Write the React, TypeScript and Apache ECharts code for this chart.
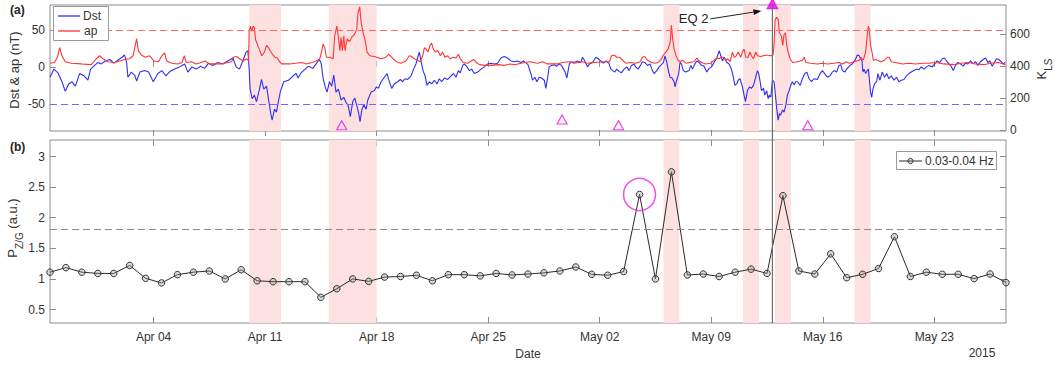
import React, { useEffect, useRef } from "react";
import * as echarts from "echarts";

// x coordinate = days since 2015-03-28 00:00
const tickDays = [7, 14, 21, 28, 35, 42, 49, 56];
const tickLabels = ["Apr 04", "Apr 11", "Apr 18", "Apr 25", "May 02", "May 09", "May 16", "May 23"];
const xMin = 0.5;
const xMax = 60.5;

const dstTicks = [-50, 0, 50];
const klsTicks = [0, 200, 400, 600];
const pzgTicks = [0.5, 1, 1.5, 2, 2.5, 3];

const dst: [number, number][] = [
  [0.5, -14], [0.75, -3], [1.0, -8], [1.25, -20], [1.46, -33], [1.67, -23], [1.88, -20], [2.09, -26], [2.36, -9], [2.63, -12],
  [2.88, -18], [3.05, -3], [3.3, 2], [3.51, 6], [3.72, 4], [3.97, 8], [4.24, 10], [4.51, 5], [4.76, 9], [5.02, 13],
  [5.18, 16], [5.31, 6], [5.39, -14], [5.6, -7], [5.81, -11], [5.94, -19], [6.14, -7], [6.44, -5], [6.69, -7], [6.98, -20],
  [7.27, -9], [7.52, -5], [7.77, -12], [8.03, -6], [8.32, -3], [8.63, 0], [8.95, 4], [9.15, -7], [9.41, 0], [9.68, -3],
  [9.95, 1], [10.2, -2], [10.45, 5], [10.72, 2], [11.04, 6], [11.35, 4], [11.66, 8], [11.98, 12], [12.18, 0], [12.39, -3],
  [12.6, 8], [12.81, 20], [12.92, 22], [13.0, -3], [13.06, -30], [13.19, -43], [13.33, -38], [13.46, -47], [13.65, -30], [13.77, -17],
  [13.92, -30], [14.09, -26], [14.21, -43], [14.34, -61], [14.44, -72], [14.59, -57], [14.71, -61], [14.84, -46], [14.96, -33], [15.17, -20],
  [15.47, -18], [15.76, -12], [15.95, -9], [16.07, -15], [16.26, -8], [16.51, -3], [16.72, 1], [17.0, -2], [17.2, 4], [17.41, 10],
  [17.52, 5], [17.64, -15], [17.77, -27], [17.89, -34], [18.04, -20], [18.18, -26], [18.31, -11], [18.45, -34], [18.6, -30], [18.77, -45],
  [18.94, -41], [19.06, -47], [19.21, -52], [19.35, -67], [19.5, -47], [19.63, -42], [19.75, -52], [19.86, -61], [19.96, -74], [20.07, -58],
  [20.19, -51], [20.34, -57], [20.44, -45], [20.65, -34], [20.86, -32], [20.98, -27], [21.11, -29], [21.28, -20], [21.49, -14], [21.65, -9],
  [21.8, -20], [21.95, -29], [22.11, -23], [22.32, -20], [22.49, -17], [22.63, -20], [22.78, -16], [22.95, -17], [23.16, -12], [23.32, -3],
  [23.47, 4], [23.58, 13], [23.68, 20], [23.78, 8], [23.91, -5], [24.04, -12], [24.16, -25], [24.31, -20], [24.45, -23], [24.62, -18],
  [24.79, -23], [24.93, -16], [25.08, -20], [25.25, -15], [25.46, -17], [25.67, -12], [25.83, -9], [25.98, -14], [26.13, -5], [26.25, -8],
  [26.4, 2], [26.5, 4], [26.67, 0], [26.82, -5], [26.96, -3], [27.13, -9], [27.34, -7], [27.55, -3], [27.76, 0], [27.97, 4],
  [28.17, 5], [28.38, 4], [28.59, 5], [28.8, 12], [29.01, 14], [29.22, 12], [29.43, 8], [29.64, 7], [29.85, 8], [30.06, 6],
  [30.22, 8], [30.39, 5], [30.5, 3], [30.6, -4], [30.68, -9], [30.78, -18], [30.93, -14], [31.06, -20], [31.2, -14], [31.35, -15],
  [31.52, -18], [31.62, -29], [31.72, -16], [31.83, 0], [31.98, 2], [32.14, 3], [32.31, 1], [32.46, 4], [32.6, 2], [32.73, -3],
  [32.83, -7], [32.94, -15], [33.02, -5], [33.1, 4], [33.23, 7], [33.4, 6], [33.6, 8], [33.81, 6], [33.92, 13], [34.07, 8],
  [34.23, 0], [34.36, 4], [34.55, 6], [34.76, 13], [34.9, 11], [35.07, 8], [35.24, 5], [35.4, 8], [35.57, 5], [35.7, -3],
  [35.82, -5], [35.95, -7], [36.07, -3], [36.22, -6], [36.36, -8], [36.53, -3], [36.7, 0], [36.85, -5], [36.99, 2], [37.16, 4],
  [37.26, 0], [37.41, -3], [37.58, 3], [37.68, 7], [37.83, 6], [38.0, 2], [38.16, 4], [38.31, -5], [38.41, -9], [38.58, -5],
  [38.73, 0], [38.87, 3], [39.0, 6], [39.1, 15], [39.21, 6], [39.33, -7], [39.42, -14], [39.54, -15], [39.67, -20], [39.73, -27],
  [39.83, -18], [39.96, -9], [40.04, 6], [40.13, 4], [40.25, -5], [40.4, -7], [40.5, -6], [40.61, -5], [40.72, 2], [40.82, -3],
  [40.97, 4], [41.1, 8], [41.24, 6], [41.39, 2], [41.55, 1], [41.72, -7], [41.87, -2], [42.02, 0], [42.18, 6], [42.35, 12],
  [42.5, 22], [42.6, 15], [42.7, 8], [42.81, 13], [42.98, 6], [43.12, 4], [43.27, -3], [43.39, -14], [43.48, -25], [43.6, -23],
  [43.69, -18], [43.81, -16], [43.96, -27], [44.06, -38], [44.15, -47], [44.27, -32], [44.4, -27], [44.52, -29], [44.65, -25], [44.79, -14],
  [44.9, -5], [44.98, -9], [45.07, -20], [45.15, -32], [45.28, -29], [45.36, -38], [45.48, -32], [45.57, -43], [45.65, -38], [45.74, -41],
  [45.84, -18], [45.94, -20], [46.03, -38], [46.11, -56], [46.2, -72], [46.28, -63], [46.36, -65], [46.47, -58], [46.57, -61], [46.68, -52],
  [46.78, -38], [46.89, -32], [46.99, -25], [47.09, -20], [47.2, -24], [47.3, -20], [47.41, -20], [47.58, -25], [47.72, -16], [47.87, -9],
  [48.0, -7], [48.14, -16], [48.29, -20], [48.45, -16], [48.66, -17], [48.83, -9], [48.98, -5], [49.12, -9], [49.29, -14], [49.46, -12],
  [49.6, -7], [49.71, -5], [49.87, -7], [50.02, 2], [50.13, 3], [50.23, -5], [50.38, -7], [50.5, -3], [50.71, 2], [50.85, 4],
  [51.0, 8], [51.17, 16], [51.29, 15], [51.38, 11], [51.46, 8], [51.52, -7], [51.59, -3], [51.69, -9], [51.79, -5], [51.86, -3],
  [51.92, -16], [52.0, -34], [52.07, -41], [52.15, -30], [52.25, -23], [52.38, -20], [52.46, -9], [52.59, -18], [52.73, -7], [52.88, -14],
  [53.01, -9], [53.15, -16], [53.3, -12], [53.47, -18], [53.63, -14], [53.78, -20], [53.93, -18], [54.09, -17], [54.26, -12], [54.41, -9],
  [54.55, -7], [54.72, -5], [54.89, -3], [55.03, -4], [55.18, 0], [55.35, -3], [55.51, 0], [55.66, 2], [55.87, 0], [56.02, 4],
  [56.18, 8], [56.35, 6], [56.5, 11], [56.64, 12], [56.77, 8], [56.92, 4], [57.06, 1], [57.19, -5], [57.33, 2], [57.48, 6],
  [57.65, 4], [57.81, 1], [57.96, 5], [58.11, 4], [58.27, 8], [58.44, 4], [58.59, 7], [58.73, 2], [58.9, 7], [59.07, 10],
  [59.22, 12], [59.36, 6], [59.49, 8], [59.63, 1], [59.78, 6], [59.9, 11], [60.05, 10], [60.2, 7], [60.32, 4], [60.45, 6],
];

const ap: [number, number][] = [
  [0.5, 5], [0.79, 6], [0.96, 13], [1.11, 26], [1.25, 15], [1.46, 7], [1.84, 5], [2.47, 4], [3.09, 3], [3.41, 11],
  [3.61, 15], [3.82, 11], [4.14, 7], [4.56, 6], [4.87, 8], [5.18, 10], [5.5, 11], [5.71, 15], [5.85, 29], [5.94, 38],
  [6.04, 22], [6.23, 16], [6.48, 13], [6.75, 15], [7.02, 8], [7.31, 7], [7.52, 15], [7.69, 19], [7.82, 8], [8.15, 5],
  [8.53, 4], [8.78, 6], [8.93, 15], [9.05, 6], [9.36, 7], [9.68, 4], [9.99, 6], [10.24, 8], [10.49, 4], [11.24, 4],
  [11.66, 6], [11.91, 7], [11.99, 13], [12.2, 14], [12.41, 11], [12.62, 8], [12.83, 11], [12.96, 8], [13.0, 49], [13.08, 55],
  [13.17, 48], [13.25, 55], [13.33, 53], [13.4, 37], [13.54, 29], [13.67, 22], [13.79, 15], [13.96, 20], [14.09, 29], [14.21, 26],
  [14.34, 21], [14.46, 17], [14.61, 13], [14.76, 12], [14.88, 8], [15.03, 4], [15.53, 4], [15.88, 5], [16.3, 6], [16.59, 4],
  [16.93, 6], [17.22, 8], [17.43, 11], [17.54, 20], [17.64, 31], [17.74, 26], [17.85, 13], [18.06, 13], [18.27, 11], [18.37, 42],
  [18.5, 55], [18.6, 40], [18.69, 22], [18.77, 40], [18.85, 22], [18.94, 42], [19.02, 22], [19.15, 38], [19.29, 34], [19.44, 40],
  [19.61, 44], [19.75, 50], [19.83, 73], [19.94, 81], [20.02, 61], [20.15, 46], [20.27, 37], [20.4, 20], [20.57, 15], [20.86, 14],
  [21.28, 11], [21.59, 13], [21.74, 17], [21.86, 15], [22.03, 11], [22.24, 7], [22.53, 5], [22.84, 8], [23.05, 15], [23.2, 14],
  [23.37, 11], [23.58, 9], [23.74, 7], [23.89, 15], [24.0, 26], [24.1, 24], [24.22, 20], [24.35, 29], [24.45, 32], [24.56, 24],
  [24.68, 20], [24.83, 22], [25.0, 15], [25.14, 20], [25.29, 13], [25.46, 15], [25.62, 11], [25.83, 13], [25.98, 12], [26.13, 17],
  [26.25, 11], [26.42, 6], [26.71, 5], [27.09, 10], [27.25, 6], [27.46, 3], [27.8, 2], [28.22, 2], [28.63, 3], [29.01, 2],
  [29.34, 4], [29.68, 3], [30.06, 5], [30.6, 7], [31.1, 5], [31.41, 7], [31.72, 4], [32.35, 4], [32.66, 6], [33.08, 7],
  [33.4, 5], [33.92, 7], [34.23, 5], [34.65, 6], [35.28, 7], [35.61, 7], [35.74, 15], [35.9, 16], [36.07, 13], [36.24, 13],
  [36.43, 9], [36.64, 5], [36.95, 6], [37.26, 5], [37.54, 7], [37.68, 13], [37.83, 14], [38.0, 9], [38.25, 6], [38.52, 5],
  [38.73, 7], [38.87, 10], [39.0, 16], [39.15, 20], [39.29, 24], [39.42, 33], [39.5, 56], [39.58, 38], [39.67, 24], [39.79, 15],
  [39.92, 9], [40.04, 7], [40.21, 9], [40.4, 5], [40.63, 6], [40.93, 7], [41.1, 12], [41.2, 9], [41.39, 6], [41.66, 4],
  [41.97, 5], [42.18, 9], [42.35, 12], [42.5, 11], [42.6, 13], [42.77, 13], [42.91, 9], [43.02, 11], [43.19, 7], [43.33, 20],
  [43.44, 13], [43.54, 14], [43.69, 20], [43.85, 13], [43.96, 20], [44.06, 24], [44.17, 13], [44.31, 13], [44.44, 20], [44.52, 15],
  [44.65, 11], [44.79, 20], [44.9, 15], [45.11, 14], [45.42, 16], [45.74, 15], [45.88, 16], [45.94, 29], [46.01, 64], [46.09, 67],
  [46.2, 64], [46.28, 46], [46.4, 42], [46.49, 29], [46.57, 44], [46.66, 46], [46.74, 29], [46.82, 20], [46.95, 11], [47.11, 6],
  [47.41, 7], [47.72, 9], [47.83, 13], [47.95, 6], [48.24, 5], [48.66, 4], [48.98, 5], [49.29, 4], [49.71, 5], [50.02, 6],
  [50.25, 4], [50.46, 7], [50.67, 5], [50.96, 7], [51.29, 9], [51.4, 13], [51.54, 9], [51.69, 20], [51.79, 42], [51.86, 55],
  [51.92, 51], [52.0, 29], [52.09, 20], [52.17, 9], [52.34, 10], [52.63, 7], [52.88, 9], [53.05, 13], [53.17, 13], [53.3, 7],
  [53.57, 6], [53.99, 4], [54.41, 5], [54.83, 4], [55.24, 5], [55.66, 5], [56.08, 6], [56.6, 4], [57.23, 3], [57.65, 5],
  [58.17, 6], [58.59, 4], [59.11, 3], [59.53, 5], [60.05, 6], [60.45, 3],
];

// pink bands: [start day, end day]
const stormBands: [number, number][] = [[13, 15], [18, 21], [39, 40], [44, 45], [46, 47], [51, 52]];
const apThreshold = 50;
const dstThreshold = -50;

// K_LS triangles (right axis)
const klsEvents: [number, number][] = [[18.81, 29], [32.64, 65], [36.18, 29], [48.06, 29]];
const eq2Day = 45.84;
const eq2Kls = 790;

// panel (b): daily P_Z/G (0.03-0.04 Hz), one value per day starting 2015-03-28 12:00
const pzg: number[] = [
  1.11, 1.185, 1.11, 1.09, 1.09, 1.22, 1.01, 0.935, 1.07, 1.11,
  1.13, 1.0, 1.15, 0.97, 0.955, 0.955, 0.955, 0.7, 0.84, 1.0,
  0.96, 1.03, 1.04, 1.06, 0.97, 1.07, 1.07, 1.05, 1.09, 1.065,
  1.08, 1.1, 1.13, 1.195, 1.075, 1.06, 1.12, 2.38, 1.0, 2.75,
  1.065, 1.08, 1.04, 1.11, 1.16, 1.09, 2.36, 1.13, 1.08, 1.41,
  1.02, 1.076, 1.17, 1.69, 1.04, 1.11, 1.076, 1.076, 1.005, 1.08,
  0.94,
];
const pzgFirstDay = 0.5;
const pzgThreshold = 1.81;
const circledIndex = 37;

const FONT = "'Liberation Sans', Arial, Helvetica, sans-serif";
const TXT = "#333";
const FRAME = "#8c8c8c";
const PINK = "#fde1e1";

export default function App() {
  const ref = useRef<HTMLDivElement>(null);

  useEffect(() => {
    if (!ref.current) return;
    const chart = echarts.init(ref.current, undefined, { renderer: "svg" });

    const tickStyle = (vals: number[]) => ({
      show: true,
      inside: true,
      length: 6,
      customValues: vals,
      lineStyle: { color: FRAME, width: 1 },
    });
    const xBase = {
      type: "value" as const,
      min: xMin,
      max: xMax,
      axisLine: { show: false },
      splitLine: { show: false },
      axisTick: tickStyle(tickDays),
    };
    const labelStyle = { color: TXT, fontSize: 12, fontFamily: FONT };

    const pzgData = pzg.map((v, i) => [pzgFirstDay + i, v]);
    const bandAreas = stormBands.map(([a, b]) => [{ xAxis: a }, { xAxis: b }]);

    chart.setOption({
      animation: false,
      backgroundColor: "#fff",
      grid: [
        { left: 50, right: 49, top: 5, height: 126, show: true, borderColor: FRAME, borderWidth: 1, backgroundColor: "transparent" },
        { left: 50, right: 49, top: 140, height: 183, show: true, borderColor: FRAME, borderWidth: 1, backgroundColor: "transparent" },
      ],
      xAxis: [
        { ...xBase, gridIndex: 0, position: "bottom", axisLabel: { show: false } },
        { ...xBase, gridIndex: 0, position: "top", axisLabel: { show: false } },
        {
          ...xBase,
          gridIndex: 1,
          position: "bottom",
          axisLabel: {
            ...labelStyle,
            margin: 8,
            customValues: tickDays,
            formatter: (v: number) => {
              const i = tickDays.indexOf(Math.round(v));
              return i >= 0 ? tickLabels[i] : "";
            },
          },
        },
        { ...xBase, gridIndex: 1, position: "top", axisLabel: { show: false } },
      ],
      yAxis: [
        {
          type: "value", gridIndex: 0, position: "left", min: -86.5, max: 83.5,
          axisLine: { show: false }, splitLine: { show: false },
          axisTick: tickStyle(dstTicks),
          axisLabel: { ...labelStyle, margin: 5, customValues: dstTicks },
        },
        {
          type: "value", gridIndex: 0, position: "right", min: -7, max: 783,
          axisLine: { show: false }, splitLine: { show: false },
          axisTick: tickStyle(klsTicks),
          axisLabel: { ...labelStyle, margin: 4, customValues: klsTicks },
        },
        {
          type: "value", gridIndex: 1, position: "left", min: 0.28, max: 3.27,
          axisLine: { show: false }, splitLine: { show: false },
          axisTick: tickStyle(pzgTicks),
          axisLabel: {
            ...labelStyle, margin: 5, customValues: pzgTicks,
            formatter: (v: number) => String(Math.round(v * 10) / 10),
          },
        },
        {
          type: "value", gridIndex: 1, position: "right", min: 0.28, max: 3.27,
          axisLine: { show: false }, splitLine: { show: false },
          axisTick: tickStyle(pzgTicks),
          axisLabel: { show: false },
        },
      ],
      series: [
        {
          type: "line", xAxisIndex: 0, yAxisIndex: 0, data: [], z: 1, silent: true,
          markArea: { silent: true, itemStyle: { color: PINK }, data: bandAreas },
        },
        {
          type: "line", xAxisIndex: 2, yAxisIndex: 2, data: [], z: 1, silent: true,
          markArea: { silent: true, itemStyle: { color: PINK }, data: bandAreas },
        },
        {
          type: "line", xAxisIndex: 0, yAxisIndex: 0, data: [], z: 2, silent: true,
          markLine: {
            silent: true, symbol: "none", label: { show: false },
            data: [
              { yAxis: apThreshold, lineStyle: { color: "#ff6b6b", type: [7, 4], width: 1 } },
              { yAxis: dstThreshold, lineStyle: { color: "#6b6bff", type: [7, 4], width: 1 } },
            ],
          },
        },
        {
          name: "Dst", type: "line", xAxisIndex: 0, yAxisIndex: 0, data: dst, z: 3,
          showSymbol: false, lineStyle: { color: "#2f2ff2", width: 1.1 }, itemStyle: { color: "#2f2ff2" },
        },
        {
          name: "ap", type: "line", xAxisIndex: 0, yAxisIndex: 0, data: ap, z: 4,
          showSymbol: false, lineStyle: { color: "#ff3434", width: 1.1 }, itemStyle: { color: "#ff3434" },
        },
        {
          name: "K_LS", type: "scatter", xAxisIndex: 0, yAxisIndex: 1, data: klsEvents, z: 5,
          symbol: "triangle", symbolSize: [10, 9],
          itemStyle: { color: "rgba(0,0,0,0)", borderColor: "#f010f0", borderWidth: 1.2 },
        },
        {
          name: "EQ 2", type: "scatter", xAxisIndex: 0, yAxisIndex: 1, data: [[eq2Day, eq2Kls]], z: 6,
          clip: false, symbol: "triangle", symbolSize: [11, 10],
          itemStyle: { color: "#ee00ee", borderColor: "#ee00ee", borderWidth: 1 },
        },
        {
          type: "line", xAxisIndex: 2, yAxisIndex: 2, data: [], z: 2, silent: true,
          markLine: {
            silent: true, symbol: "none", label: { show: false },
            data: [{ yAxis: pzgThreshold, lineStyle: { color: "#8a8a8a", type: [7, 4], width: 1 } }],
          },
        },
        {
          name: "0.03-0.04 Hz", type: "line", xAxisIndex: 2, yAxisIndex: 2, data: pzgData, z: 4,
          symbol: "circle", symbolSize: 6.5, showAllSymbol: true,
          lineStyle: { color: "#2a2a2a", width: 1 },
          itemStyle: { color: "rgba(150,150,150,0.35)", borderColor: "#333", borderWidth: 1 },
        },
        {
          type: "scatter", xAxisIndex: 2, yAxisIndex: 2, z: 5,
          data: [pzgData[circledIndex]],
          symbol: "circle", symbolSize: 32,
          itemStyle: { color: "rgba(0,0,0,0)", borderColor: "#ee22ee", borderWidth: 1.5 },
        },
      ],
    });

    const eqX = chart.convertToPixel({ xAxisIndex: 0 }, eq2Day) as number;
    const yTop = chart.convertToPixel({ yAxisIndex: 0 }, 83.5) as number;
    const yBot = chart.convertToPixel({ yAxisIndex: 2 }, 0.28) as number;
    const eqY = chart.convertToPixel({ yAxisIndex: 1 }, eq2Kls) as number;

    // arrow from "EQ 2" label to the triangle
    const tipX = eqX - 11;
    const tipY = eqY + 7;
    const startX = eqX - 62;
    const startY = eqY + 15;
    const dx = tipX - startX;
    const dy = tipY - startY;
    const len = Math.sqrt(dx * dx + dy * dy);
    const ux = dx / len;
    const uy = dy / len;
    const bx = tipX - 8 * ux;
    const by = tipY - 8 * uy;

    const textStyle = (extra: any) => ({ fill: TXT, fontFamily: FONT, fontSize: 13, ...extra });

    chart.setOption({
      graphic: [
        { type: "line", z: 20, shape: { x1: eqX, y1: yTop, x2: eqX, y2: yBot }, style: { stroke: "#6e6e6e", lineWidth: 1.2 } },
        { type: "text", x: 10, y: 10, style: textStyle({ text: "(a)", fontWeight: "bold", fontSize: 12, verticalAlign: "middle", fill: "#222" }) },
        { type: "text", x: 10, y: 147, style: textStyle({ text: "(b)", fontWeight: "bold", fontSize: 12, verticalAlign: "middle", fill: "#222" }) },
        {
          type: "text", x: 14, y: 70, rotation: Math.PI / 2,
          style: textStyle({ text: "Dst & ap (nT)", align: "center", verticalAlign: "middle" }),
        },
        {
          type: "text", x: 15, y: 228, rotation: Math.PI / 2,
          style: {
            text: "{m|P}{s|Z/G}{m| (a.u.)}",
            align: "center", verticalAlign: "middle",
            fill: TXT, fontFamily: FONT,
            rich: {
              m: { fontSize: 13, fill: TXT, fontFamily: FONT, padding: [0, 0, 5, 0], verticalAlign: "bottom" },
              s: { fontSize: 10, fill: TXT, fontFamily: FONT, verticalAlign: "bottom" },
            },
          },
        },
        {
          type: "text", x: 1044, y: 69, rotation: Math.PI / 2,
          style: {
            text: "{m|K}{s|LS}",
            align: "center", verticalAlign: "middle",
            fill: TXT, fontFamily: FONT,
            rich: {
              m: { fontSize: 13, fill: TXT, fontFamily: FONT, padding: [0, 0, 5, 0], verticalAlign: "bottom" },
              s: { fontSize: 10, fill: TXT, fontFamily: FONT, verticalAlign: "bottom" },
            },
          },
        },
        { type: "text", x: 528, y: 354, style: textStyle({ text: "Date", align: "center", verticalAlign: "middle", fontSize: 12 }) },
        { type: "text", x: 982, y: 353, style: textStyle({ text: "2015", align: "center", verticalAlign: "middle", fontSize: 12 }) },
        // legend (a)
        { type: "rect", z: 30, shape: { x: 53.5, y: 6.5, width: 55, height: 34 }, style: { fill: "#fff", stroke: "#9a9a9a", lineWidth: 1 } },
        { type: "line", z: 31, shape: { x1: 58, y1: 16, x2: 80, y2: 16 }, style: { stroke: "#2f2ff2", lineWidth: 1.3 } },
        { type: "text", z: 31, x: 83, y: 16, style: textStyle({ text: "Dst", verticalAlign: "middle", fontSize: 12 }) },
        { type: "line", z: 31, shape: { x1: 58, y1: 31, x2: 80, y2: 31 }, style: { stroke: "#ff3434", lineWidth: 1.3 } },
        { type: "text", z: 31, x: 84, y: 31, style: textStyle({ text: "ap", verticalAlign: "middle", fontSize: 12 }) },
        // legend (b)
        { type: "rect", z: 30, shape: { x: 896.5, y: 151.5, width: 100, height: 18 }, style: { fill: "#fff", stroke: "#9a9a9a", lineWidth: 1 } },
        { type: "line", z: 31, shape: { x1: 899, y1: 161, x2: 922, y2: 161 }, style: { stroke: "#2a2a2a", lineWidth: 1 } },
        { type: "circle", z: 32, shape: { cx: 910.5, cy: 161, r: 2.6 }, style: { fill: "rgba(150,150,150,0.5)", stroke: "#333", lineWidth: 1 } },
        { type: "text", z: 31, x: 925, y: 161, style: textStyle({ text: "0.03-0.04 Hz", verticalAlign: "middle", fontSize: 12 }) },
        // EQ 2 annotation
        { type: "text", z: 25, x: startX - 2, y: startY, style: textStyle({ text: "EQ 2", align: "right", verticalAlign: "middle", fontSize: 13, fill: "#222" }) },
        { type: "line", z: 25, shape: { x1: startX, y1: startY, x2: bx, y2: by }, style: { stroke: "#222", lineWidth: 1 } },
        {
          type: "polygon", z: 25,
          shape: { points: [[tipX, tipY], [bx - 3 * uy, by + 3 * ux], [bx + 3 * uy, by - 3 * ux]] },
          style: { fill: "#111" },
        },
      ],
    });

    return () => chart.dispose();
  }, []);

  return (
    <div
      ref={ref}
      style={{ position: "fixed", left: 0, top: 0, width: 1055, height: 367, background: "#fff" }}
    />
  );
}
